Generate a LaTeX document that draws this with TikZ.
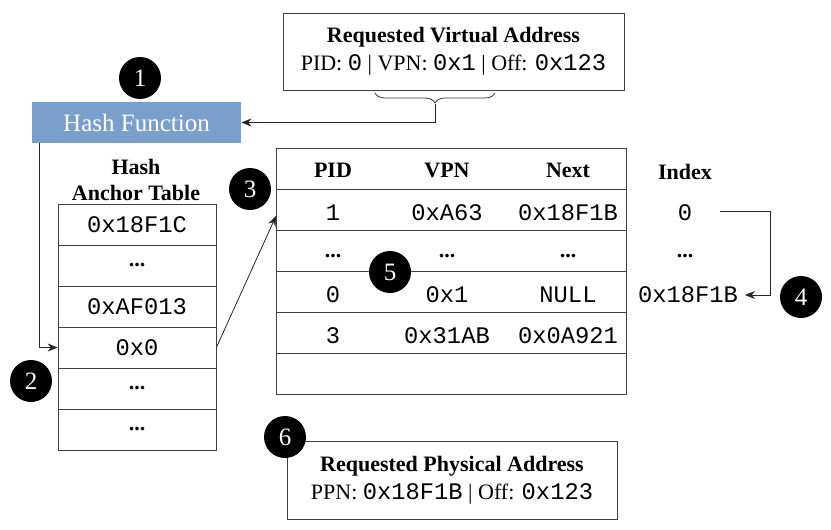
\documentclass[tikz,border=0pt]{standalone}
\usepackage{fontspec}
\setmainfont{Liberation Serif}
\setmonofont[Scale=1.08]{Liberation Mono}
\usetikzlibrary{arrows.meta,decorations.pathreplacing}
\definecolor{hashblue}{HTML}{7B9FCC}
\begin{document}
\begin{tikzpicture}
[x=0.5pt,y=-0.5pt,
font=\fontsize{11}{14}\selectfont,
addr/.style={draw=black!75,minimum width=170.5pt,minimum height=38.5pt,align=center,inner sep=0pt},
cell/.style={draw=black!75,minimum width=79pt,minimum height=20.5pt,inner sep=0pt},
row/.style={draw=black!75,minimum width=175pt,minimum height=20.5pt,inner sep=0pt},
num/.style={circle,fill=black,text=white,minimum size=21pt,inner sep=0pt,font=\fontsize{12.5}{12.5}\selectfont},
link/.style={black!85,-{Stealth[length=5pt,width=4pt]}}]
\useasboundingbox (0,0) rectangle (831,530);
% requested virtual address
\node[addr] (va) at (453.5,51.5) {\textbf{Requested Virtual Address}\\PID: \texttt{0} | VPN: \texttt{0x1} | Off: \texttt{0x123}};
\node[fill=hashblue,text=white,minimum width=104.5pt,minimum height=20.5pt,inner sep=0pt,font=\fontsize{12.5}{14}\selectfont] (hash) at (136.5,122.5) {Hash Function};
% hash anchor table
\node[align=center,font=\fontsize{11}{13}\selectfont\bfseries] (atitle) at (136,180) {Hash\\Anchor Table};
\node[cell] (a1) at (137,224.5) {\texttt{0x18F1C}};
\node[cell] (a2) at (137,265.5) {\textbf{...}};
\node[cell] (a3) at (137,306.5) {\texttt{0xAF013}};
\node[cell] (a4) at (137,347.5) {\texttt{0x0}};
\node[cell] (a5) at (137,388.5) {\textbf{...}};
\node[cell] (a6) at (137,429.5) {\textbf{...}};
% page table
\node[row] (r0) at (451,168.5) {};
\node[row] (r1) at (451,209.5) {};
\node[row] (r2) at (451,250.5) {};
\node[row] (r3) at (451,291.5) {};
\node[row] (r4) at (451,332.5) {};
\node[row] (r5) at (451,373.5) {};
\node (pid0) at (333,170) {\textbf{PID}};
\node (vpn0) at (447,170) {\textbf{VPN}};
\node (nxt0) at (568,170) {\textbf{Next}};
\node (ix0) at (685,172) {\textbf{Index}};
\node (pid1) at (333,213) {\texttt{1}};
\node (vpn1) at (447,213) {\texttt{0xA63}};
\node (nxt1) at (568,213) {\texttt{0x18F1B}};
\node (ix1) at (685,213) {\texttt{0}};
\node (pid2) at (333,256) {\textbf{...}};
\node (vpn2) at (447,256) {\textbf{...}};
\node (nxt2) at (568,256) {\textbf{...}};
\node (ix2) at (685,256) {\textbf{...}};
\node (pid3) at (333,295) {\texttt{0}};
\node (vpn3) at (447,295) {\texttt{0x1}};
\node (nxt3) at (568,295) {\texttt{NULL}};
\node (ix3) at (688,295) {\texttt{0x18F1B}};
\node (pid4) at (333,336) {\texttt{3}};
\node (vpn4) at (447,336) {\texttt{0x31AB}};
\node (nxt4) at (568,336) {\texttt{0x0A921}};
% requested physical address
\node[addr,minimum width=165pt,minimum height=39pt] (pa) at (452,480) {\textbf{Requested Physical Address}\\PPN: \texttt{0x18F1B} | Off: \texttt{0x123}};
% connectors
\coordinate (brl) at (375,93);
\coordinate (brr) at (495,93);
\coordinate (brtip) at (435,104);
\draw[black!80,decorate,decoration={brace,mirror,amplitude=5pt}] (brl) -- (brr);
\draw[link] (brtip) |- (hash.east);
\coordinate (hdrop) at (39,143);
\draw[link] (hdrop) |- (a4.west);
\coordinate (t3) at (276,216);
\draw[link] (a4.east) -- (t3);
\coordinate (istart) at (720,211);
\coordinate (bend) at (770,295);
\draw[link] (istart) -| (bend) -- (ix3.east);
% steps
\node[num] (n1) at (140,78) {1};
\node[num] (n2) at (31,381) {2};
\node[num] (n3) at (250,189) {3};
\node[num] (n4) at (801,297) {4};
\node[num] (n5) at (390,272) {5};
\node[num] (n6) at (285,437) {6};
\end{tikzpicture}
\end{document}
